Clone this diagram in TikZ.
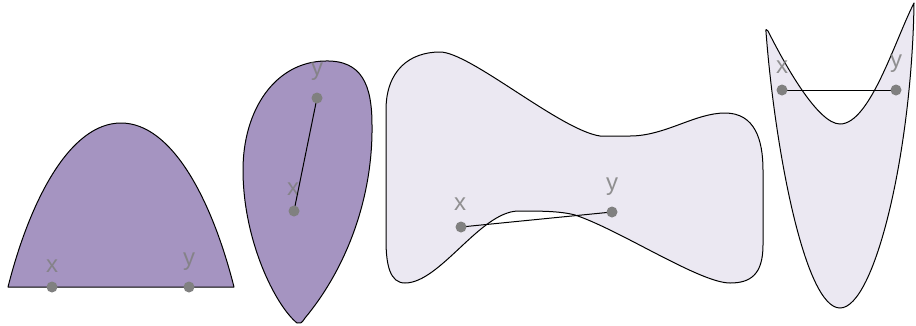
\documentclass[tikz,border=0pt]{standalone}
\usepackage{fontspec}
\setmainfont{Liberation Sans}
\definecolor{darkfill}{HTML}{A594C1}
\definecolor{lightfill}{HTML}{EBE8F2}
\definecolor{dotgray}{HTML}{808080}
\definecolor{lblgray}{HTML}{808080}
\begin{document}
\begin{tikzpicture}[x=1pt,y=-1pt,
  region/.style={draw=black, line width=1pt, line join=round},
  dark/.style={region, fill=darkfill},
  light/.style={region, fill=lightfill},
  seg/.style={draw=black, line width=1pt},
  dot/.style={circle, fill=dotgray, inner sep=0pt, minimum size=11pt},
  lbl/.style={text=lblgray, text opacity=0.85, font=\fontsize{24}{24}\selectfont, anchor=base, inner sep=0pt}]
\useasboundingbox (0,0) rectangle (916,325);

% shape 1
\path[dark] (8,287) .. controls (30,200) and (70,123) .. (121,123)
  .. controls (172,123) and (212,200) .. (234,287) -- cycle;
% shape 2
\path[dark] (297,323) .. controls (275,305) and (243,240) .. (243,170)
  .. controls (243,110) and (275,62) .. (325,61)
  .. controls (362,60) and (372,85) .. (372,125)
  .. controls (373,200) and (345,270) .. (305,318)
  .. controls (302,323) and (300,324) .. (297,323) -- cycle;
% shape 3
\path[light] (386,240) -- (386,110)
  .. controls (386,70) and (410,52) .. (440,52)
  .. controls (470,52) and (560,130) .. (600,136)
  -- (630,136)
  .. controls (665,136) and (695,113) .. (725,113)
  .. controls (755,113) and (763,140) .. (763,170)
  -- (763,245)
  .. controls (763,275) and (750,283) .. (730,283)
  .. controls (700,283) and (620,230) .. (575,215)
  .. controls (560,211) and (540,211) .. (518,211)
  .. controls (480,212) and (440,283) .. (405,283)
  .. controls (390,283) and (386,265) .. (386,240) -- cycle;
% shape 4
\path[light] (766,32) .. controls (775,150) and (805,308) .. (840,308)
  .. controls (875,308) and (912,150) .. (914,3)
  .. controls (895,40) and (870,124) .. (840,124)
  .. controls (818,124) and (785,65) .. (768,31)
  .. controls (767,29) and (765,29) .. (766,32) -- cycle;

% labels
\node[lbl] (lx1) at (52,272) {x};
\node[lbl] (ly1) at (189,265) {y};
\node[lbl] (lx2) at (293,195) {x};
\node[lbl] (ly2) at (317,75) {y};
\node[lbl] (lx3) at (460,210) {x};
\node[lbl] (ly3) at (612,190) {y};
\node[lbl] (lx4) at (782,73) {x};
\node[lbl] (ly4) at (896,67) {y};

% points
\coordinate (x1) at (52,287);
\coordinate (y1) at (189,287);
\coordinate (x2) at (294,211);
\coordinate (y2) at (317,98);
\coordinate (x3) at (461,227);
\coordinate (y3) at (612,212);
\coordinate (x4) at (782,90);
\coordinate (y4) at (896,90);

% segments
\draw[seg] (x2) -- (y2);
\draw[seg] (x3) -- (y3);
\draw[seg] (x4) -- (y4);

\foreach \p in {x1,y1,x2,y2,x3,y3,x4,y4}
  \node[dot] (d\p) at (\p) {};
\end{tikzpicture}
\end{document}
